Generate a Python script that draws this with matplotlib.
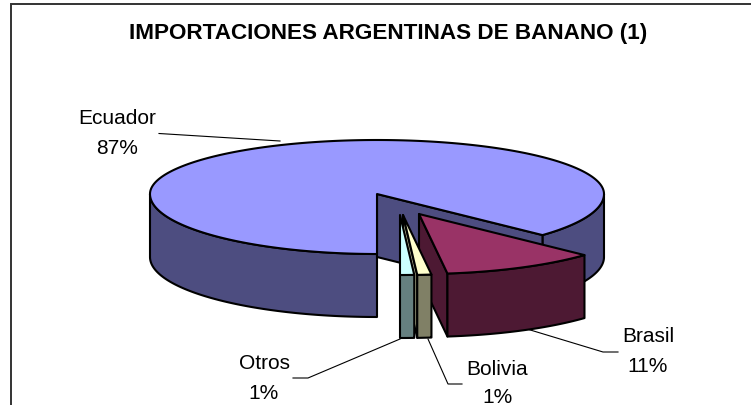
import numpy as np
import matplotlib
matplotlib.use("Agg")
import matplotlib.pyplot as plt
from matplotlib.patches import Polygon

plt.rcParams['font.family'] = ['Liberation Sans', 'DejaVu Sans']

title = "IMPORTACIONES ARGENTINAS DE BANANO (1)"
categories = ["Ecuador", "Brasil", "Bolivia", "Otros"]
shares = [87, 11, 1, 1]
top_colors = ["#9999FF", "#993366", "#FFFFCC", "#CCFFFF"]
side_colors = ["#4D4D80", "#4D1933", "#808066", "#668080"]
inner_colors = ["#4D4D80", "#4D1933", "#A8A888", "#668080"]
explode_px = [(0, 0), (42, 20), (26, 21), (23, 21)]

CX, CY, RX, RY_BACK, RY_FRONT, DEPTH = 377, 195, 227, 54, 60, 63
START = 180.0
EDGE = 1.5

fig = plt.figure(figsize=(7.51, 4.06), dpi=100, facecolor="white")
ax = fig.add_axes([0, 0, 1, 1])
ax.set_xlim(0, 751)
ax.set_ylim(406, 0)
ax.axis("off")

ax.plot([11, 11, 751], [406, 4.7, 4.7], color="#333333", lw=1.4, zorder=0, solid_joinstyle="miter")


def rim(a0, a1, off, depth=0, n=120):
    t = np.radians(np.linspace(a0, a1, n))
    c = np.cos(t)
    ry = np.where(c > 0, RY_BACK, RY_FRONT)
    return np.column_stack((CX + off[0] + RX * np.sin(t),
                            CY + off[1] + depth - ry * c))


def poly(pts, color, z):
    ax.add_patch(Polygon(pts, closed=True, fc=color, ec="black", lw=EDGE,
                         joinstyle="round", zorder=z))


bounds = START + np.concatenate(([0], np.cumsum(shares))) * 3.6
spans = {c: (bounds[i], bounds[i + 1], i) for i, c in enumerate(categories)}

# Ecuador
a0, a1, i = spans["Ecuador"]
o = explode_px[i]
apex = np.array([[CX + o[0], CY + o[1]]])
down = np.array([0, DEPTH])
poly(np.vstack((rim(180, 270, o), rim(270, 180, o, DEPTH))), side_colors[i], 2)
poly(np.vstack((rim(a1 - 360, 90, o), rim(90, a1 - 360, o, DEPTH))), side_colors[i], 2)
end = rim(a1, a1, o, n=1)
poly(np.vstack((apex, end, end + down, apex + down)), inner_colors[i], 3)
poly(np.vstack((apex, rim(a0, a1, o, n=300))), top_colors[i], 4)

# Exploded slices, back to front
for name, z in (("Brasil", 5), ("Bolivia", 8), ("Otros", 11)):
    a0, a1, i = spans[name]
    o = explode_px[i]
    apex = np.array([[CX + o[0], CY + o[1]]])
    near = rim(a1, a1, o, n=1)
    if name != "Otros":
        poly(np.vstack((apex, near, near + down, apex + down)), inner_colors[i], z)
    poly(np.vstack((rim(a0, a1, o, n=40), rim(a1, a0, o, DEPTH, n=40))), side_colors[i], z + 1)
    poly(np.vstack((apex, rim(a0, a1, o, n=40))), top_colors[i], z + 2)

fs = 15
ax.text(388.5, 34, title, fontsize=16.2, fontweight="bold", ha="center", va="center", color="black", zorder=20)

labels = {
    "Ecuador": (117, 119, 148.5),
    "Brasil": (648, 337, 366.5),
    "Bolivia": (497, 370, 398),
    "Otros": (264, 364, 393.5),
}
leaders = {
    "Ecuador": [(159, 134.5), (280, 142)],
    "Brasil": [(527, 330), (603, 353), (618, 353)],
    "Bolivia": [(462, 385), (448, 385), (428, 340)],
    "Otros": [(293, 379), (308, 379), (400, 340)],
}
for name, share in zip(categories, shares):
    x, y, y2 = labels[name]
    ax.text(x, y, name, fontsize=fs, ha="center", va="center", color="black", zorder=20)
    ax.text(x, y2, f"{share}%", fontsize=fs, ha="center", va="center", color="black", zorder=20)
    xs, ys = zip(*leaders[name])
    ax.plot(xs, ys, color="black", lw=0.8, zorder=1 if name != "Ecuador" else 5)

fig.savefig("out.png", dpi=100)
